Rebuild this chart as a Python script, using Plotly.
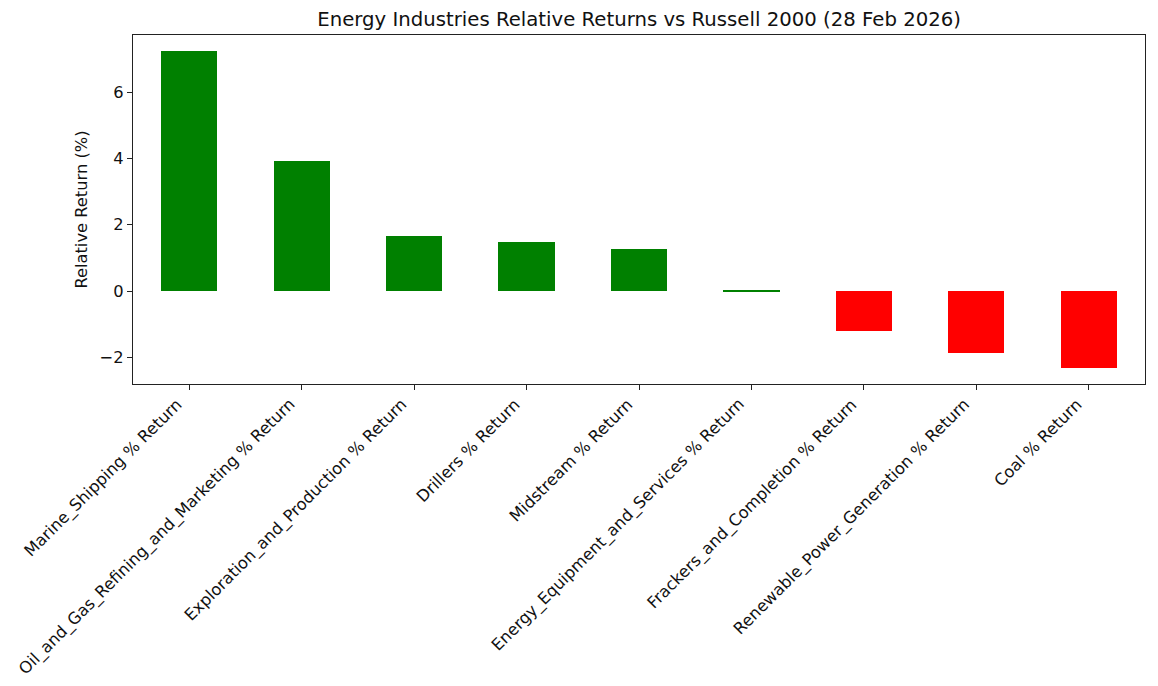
import plotly.graph_objects as go

categories = [
    "Marine_Shipping % Return",
    "Oil_and_Gas_Refining_and_Marketing % Return",
    "Exploration_and_Production % Return",
    "Drillers % Return",
    "Midstream % Return",
    "Energy_Equipment_and_Services % Return",
    "Frackers_and_Completion % Return",
    "Renewable_Power_Generation % Return",
    "Coal % Return",
]
values = [7.24, 3.91, 1.67, 1.47, 1.26, 0.04, -1.19, -1.88, -2.31]
colors = ["#008000" if v >= 0 else "#ff0000" for v in values]

fig = go.Figure(go.Bar(x=categories, y=values, marker=dict(color=colors, line=dict(width=0)), width=0.5))

tick_font = dict(family="DejaVu Sans", size=16.3, color="#111")
axis_common = dict(showline=True, linecolor="#222", linewidth=1.2, mirror=True,
                   ticks="outside", ticklen=5, tickcolor="#222", showgrid=False, zeroline=False,
                   tickfont=tick_font)

for c in categories:
    fig.add_annotation(x=c, xref="x", y=0, yref="paper", yshift=-8,
                       text=c, showarrow=False, textangle=-45,
                       xanchor="right", yanchor="top", font=tick_font)

fig.update_layout(
    width=1158, height=686,
    margin=dict(l=125, r=21, t=27, b=310),
    plot_bgcolor="white", paper_bgcolor="white",
    title=dict(text="Energy Industries Relative Returns vs Russell 2000 (28 Feb 2026)",
               x=0.545, xanchor="center", y=0.984, yanchor="middle",
               font=dict(family="DejaVu Sans", size=19.7, color="#111")),
    showlegend=False,
    bargap=0,
)
fig.update_xaxes(range=[-0.5, 8.5], showticklabels=False, **axis_common)
fig.update_yaxes(range=[-2.8, 7.72], tickvals=[-2, 0, 2, 4, 6],
                 title=dict(text="Relative Return (%)", font=tick_font, standoff=7),
                 **axis_common)

fig.write_html("out.html")
